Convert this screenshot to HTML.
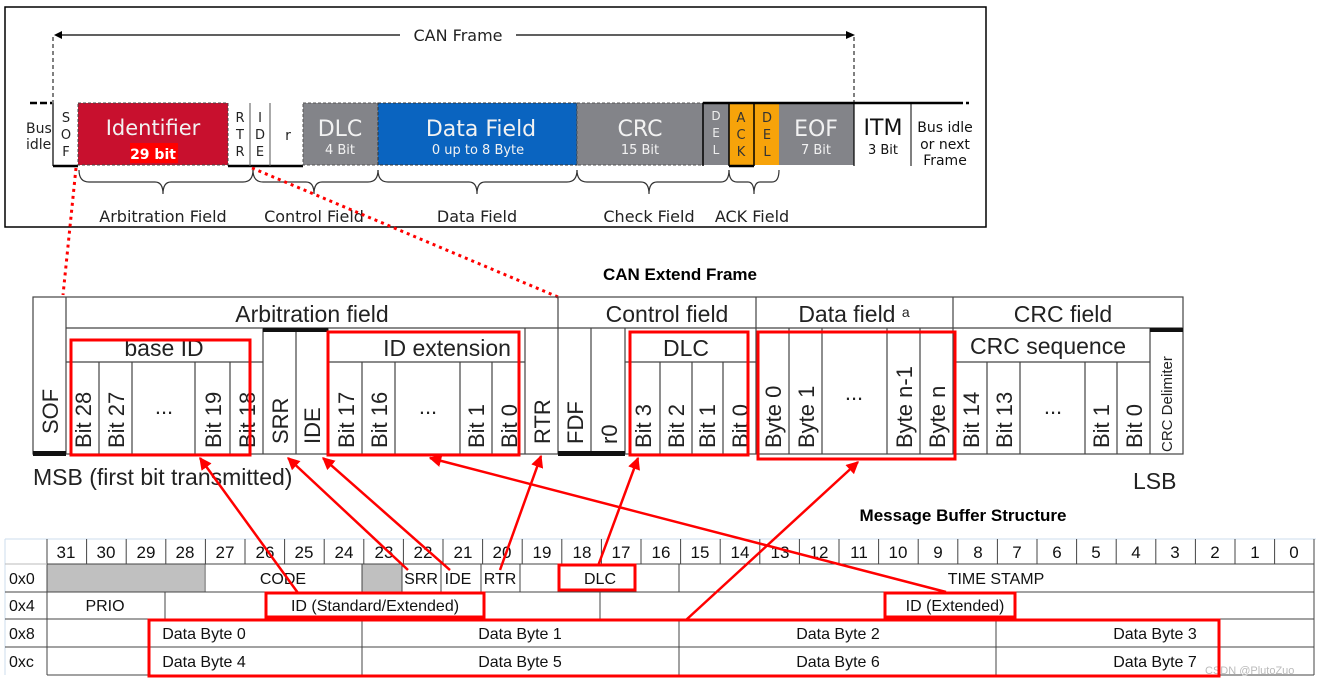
<!DOCTYPE html>
<html><head><meta charset="utf-8"><style>
body{margin:0;background:#fff;}
svg{display:block;}
</style></head><body>
<svg width="1323" height="685" viewBox="0 0 1323 685" xmlns="http://www.w3.org/2000/svg" font-family="'DejaVu Sans', sans-serif">
<defs>
<marker id="ah" viewBox="0 0 10 10" refX="9" refY="5" markerWidth="5" markerHeight="5" orient="auto-start-reverse"><path d="M0,0 L10,5 L0,10 z" fill="#f00"/></marker>
</defs>
<!-- ===== TOP FRAME ===== -->
<rect x="5" y="7" width="981" height="220" fill="#fff" stroke="#000" stroke-width="1.5"/>
<line x1="58" y1="35" x2="400" y2="35" stroke="#000" stroke-width="1.3"/>
<path d="M62,31 L54,35 L62,39 z" fill="#000"/>
<line x1="516" y1="35" x2="850" y2="35" stroke="#000" stroke-width="1.3"/>
<path d="M846,31 L855,35 L846,39 z" fill="#000"/>
<text x="458" y="41" font-size="16" text-anchor="middle" fill="#222">CAN Frame</text>
<line x1="53" y1="37" x2="53" y2="103" stroke="#000" stroke-width="1" stroke-dasharray="4,3"/>
<line x1="854" y1="37" x2="854" y2="103" stroke="#000" stroke-width="1" stroke-dasharray="4,3"/>
<line x1="30" y1="103" x2="52" y2="103" stroke="#000" stroke-width="2.5" stroke-dasharray="7,3"/>
<line x1="53" y1="103" x2="53" y2="166" stroke="#000" stroke-width="1.2"/>
<line x1="53" y1="166" x2="78" y2="166" stroke="#000" stroke-width="2.5"/>
<text font-size="14" fill="#222"><tspan x="26" y="133">Bus</tspan><tspan x="26" y="149">idle</tspan></text>
<text font-size="13" fill="#222" text-anchor="middle"><tspan x="66" y="122">S</tspan><tspan x="66" y="139">O</tspan><tspan x="66" y="156">F</tspan></text>
<rect x="78" y="103" width="150" height="62" fill="#c8102e" stroke="#444" stroke-dasharray="3,2"/>
<text x="153" y="135" font-size="21" fill="#f2f2f2" text-anchor="middle">Identifier</text>
<rect x="130" y="143" width="48" height="20" fill="#ff0000"/>
<text x="153" y="159" font-size="14" font-weight="bold" fill="#fff" text-anchor="middle">29 bit</text>
<line x1="228" y1="166" x2="303" y2="166" stroke="#000" stroke-width="2.5"/>
<line x1="250" y1="103" x2="250" y2="166" stroke="#555" stroke-width="1"/>
<line x1="270" y1="103" x2="270" y2="166" stroke="#555" stroke-width="1"/>
<text font-size="13" fill="#222" text-anchor="middle"><tspan x="240" y="122">R</tspan><tspan x="240" y="139">T</tspan><tspan x="240" y="156">R</tspan></text>
<text font-size="13" fill="#222" text-anchor="middle"><tspan x="260" y="122">I</tspan><tspan x="260" y="139">D</tspan><tspan x="260" y="156">E</tspan></text>
<text x="288" y="140" font-size="14" fill="#222" text-anchor="middle">r</text>
<rect x="303" y="103" width="75" height="62" fill="#838489" stroke="#555" stroke-dasharray="3,2"/>
<text x="340" y="136" font-size="22" fill="#f2f2f2" text-anchor="middle">DLC</text>
<text x="340" y="154" font-size="13" fill="#f2f2f2" text-anchor="middle">4 Bit</text>
<rect x="378" y="103" width="199" height="62" fill="#0a64c0" stroke="#333" stroke-dasharray="3,2"/>
<text x="481" y="136" font-size="22" fill="#f2f2f2" text-anchor="middle">Data Field</text>
<text x="478" y="154" font-size="13" fill="#f2f2f2" text-anchor="middle">0 up to 8 Byte</text>
<rect x="577" y="103" width="126" height="62" fill="#838489" stroke="#555" stroke-dasharray="3,2"/>
<text x="640" y="136" font-size="22" fill="#f2f2f2" text-anchor="middle">CRC</text>
<text x="640" y="154" font-size="13" fill="#f2f2f2" text-anchor="middle">15 Bit</text>
<rect x="703" y="103" width="26" height="62" fill="#838489"/>
<text font-size="12" fill="#eee" text-anchor="middle"><tspan x="716" y="120">D</tspan><tspan x="716" y="137">E</tspan><tspan x="716" y="154">L</tspan></text>
<rect x="729" y="103" width="25" height="62" fill="#f7a30a"/>
<text font-size="13" fill="#333" text-anchor="middle"><tspan x="741" y="122">A</tspan><tspan x="741" y="139">C</tspan><tspan x="741" y="156">K</tspan></text>
<rect x="754" y="103" width="25" height="62" fill="#f7a30a"/>
<text font-size="13" fill="#333" text-anchor="middle"><tspan x="767" y="122">D</tspan><tspan x="767" y="139">E</tspan><tspan x="767" y="156">L</tspan></text>
<rect x="779" y="103" width="75" height="62" fill="#838489"/>
<text x="816" y="136" font-size="22" fill="#f2f2f2" text-anchor="middle">EOF</text>
<text x="816" y="154" font-size="13" fill="#f2f2f2" text-anchor="middle">7 Bit</text>
<line x1="703" y1="103" x2="960" y2="103" stroke="#000" stroke-width="2.5"/>
<line x1="960" y1="103" x2="972" y2="103" stroke="#000" stroke-width="2.5" stroke-dasharray="3,3"/>
<line x1="703" y1="103" x2="703" y2="166" stroke="#000" stroke-width="1.5"/>
<line x1="729" y1="103" x2="729" y2="166" stroke="#000" stroke-width="1.5"/>
<line x1="729" y1="166" x2="754" y2="166" stroke="#000" stroke-width="2.5"/>
<line x1="754" y1="103" x2="754" y2="166" stroke="#000" stroke-width="1.5"/>
<line x1="854" y1="103" x2="854" y2="166" stroke="#000" stroke-width="1.2"/>
<line x1="911" y1="103" x2="911" y2="166" stroke="#000" stroke-width="1"/>
<text x="883" y="135" font-size="22" fill="#111" text-anchor="middle">ITM</text>
<text x="883" y="154" font-size="13" fill="#111" text-anchor="middle">3 Bit</text>
<text font-size="14" fill="#111" text-anchor="middle"><tspan x="945" y="132">Bus idle</tspan><tspan x="945" y="149">or next</tspan><tspan x="945" y="165">Frame</tspan></text>
<g fill="none" stroke="#333" stroke-width="1.2">
<path d="M79,170 Q79,182 89,182 L155,182 Q163,182 163,194 Q163,182 171,182 L243,182 Q253,182 253,170"/>
<path d="M253,170 Q253,182 263,182 L306,182 Q314,182 314,194 Q314,182 322,182 L368,182 Q378,182 378,170"/>
<path d="M378,170 Q378,182 388,182 L469,182 Q477,182 477,194 Q477,182 485,182 L567,182 Q577,182 577,170"/>
<path d="M577,170 Q577,182 587,182 L641,182 Q649,182 649,194 Q649,182 657,182 L721,182 Q729,182 729,170"/>
<path d="M729,170 Q729,182 737,182 L748,182 Q754,182 754,194 Q754,182 760,182 L772,182 Q779,182 779,170"/>
</g>
<g font-size="16" fill="#222" text-anchor="middle">
<text x="163" y="222">Arbitration Field</text>
<text x="314" y="222">Control Field</text>
<text x="477" y="222">Data Field</text>
<text x="649" y="222">Check Field</text>
<text x="752" y="222">ACK Field</text>
</g>
<line x1="76" y1="168" x2="63" y2="295" stroke="#f00" stroke-width="3" stroke-dasharray="3,4"/>
<line x1="252" y1="168" x2="558" y2="297" stroke="#f00" stroke-width="3" stroke-dasharray="3,4"/>

<!-- ===== CAN EXTEND FRAME ===== -->
<text x="680" y="280" font-size="17" font-weight="bold" text-anchor="middle" font-family="'Liberation Sans',sans-serif">CAN Extend Frame</text>
<g stroke="#444" stroke-width="1.2" fill="none">
<rect x="33" y="297" width="1150" height="157"/>
<line x1="66" y1="328" x2="1183" y2="328"/>
<line x1="66" y1="362" x2="263" y2="362"/>
<line x1="328" y1="362" x2="525" y2="362"/>
<line x1="625" y1="362" x2="756" y2="362"/>
<line x1="953" y1="362" x2="1150" y2="362"/>
<line x1="66" y1="297" x2="66" y2="454"/>
<line x1="558" y1="297" x2="558" y2="454"/>
<line x1="756" y1="297" x2="756" y2="454"/>
<line x1="953" y1="297" x2="953" y2="454"/>
<path d="M99,362V454M132,362V454M195,362V454M230,362V454M263,328V454M296,328V454M328,328V454M362,362V454M395,362V454M460,362V454M492,362V454M525,328V454M591,328V454M625,328V454M660,362V454M692,362V454M723,362V454M789,328V454M822,328V454M887,328V454M920,328V454M987,362V454M1020,362V454M1085,362V454M1117,362V454M1150,328V454"/>
</g>
<g fill="#111">
<rect x="33" y="451" width="33" height="5"/>
<rect x="263" y="328" width="65" height="4"/>
<rect x="558" y="451" width="67" height="5"/>
<rect x="1150" y="328" width="33" height="4"/>
</g>
<g font-family="'Liberation Sans',sans-serif" fill="#222" text-anchor="middle">
<text x="312" y="322" font-size="23">Arbitration field</text>
<text x="667" y="322" font-size="23">Control field</text>
<text x="854" y="322" font-size="23">Data field <tspan font-size="14" dy="-5">a</tspan></text>
<text x="1063" y="322" font-size="23">CRC field</text>
<text x="164" y="356" font-size="23">base ID</text>
<text x="447" y="356" font-size="23">ID extension</text>
<text x="686" y="356" font-size="23">DLC</text>
<text x="1048" y="354" font-size="23">CRC sequence</text>
<text x="164" y="414" font-size="22">...</text>
<text x="428" y="414" font-size="22">...</text>
<text x="854" y="400" font-size="22">...</text>
<text x="1053" y="414" font-size="22">...</text>
</g>
<g font-family="'Liberation Sans',sans-serif" fill="#222" font-size="22">
<text transform="translate(58,434) rotate(-90)">SOF</text>
<text transform="translate(91,448) rotate(-90)">Bit 28</text>
<text transform="translate(124,448) rotate(-90)">Bit 27</text>
<text transform="translate(221,448) rotate(-90)">Bit 19</text>
<text transform="translate(255,448) rotate(-90)">Bit 18</text>
<text transform="translate(288,444) rotate(-90)">SRR</text>
<text transform="translate(320,444) rotate(-90)">IDE</text>
<text transform="translate(354,448) rotate(-90)">Bit 17</text>
<text transform="translate(387,448) rotate(-90)">Bit 16</text>
<text transform="translate(484,448) rotate(-90)">Bit 1</text>
<text transform="translate(517,448) rotate(-90)">Bit 0</text>
<text transform="translate(550,444) rotate(-90)">RTR</text>
<text transform="translate(583,444) rotate(-90)">FDF</text>
<text transform="translate(617,444) rotate(-90)">r0</text>
<text transform="translate(651,448) rotate(-90)">Bit 3</text>
<text transform="translate(684,448) rotate(-90)">Bit 2</text>
<text transform="translate(715,448) rotate(-90)">Bit 1</text>
<text transform="translate(748,448) rotate(-90)">Bit 0</text>
<text transform="translate(781,448) rotate(-90)">Byte 0</text>
<text transform="translate(814,448) rotate(-90)">Byte 1</text>
<text transform="translate(912,448) rotate(-90)">Byte n-1</text>
<text transform="translate(945,448) rotate(-90)">Byte n</text>
<text transform="translate(979,448) rotate(-90)">Bit 14</text>
<text transform="translate(1012,448) rotate(-90)">Bit 13</text>
<text transform="translate(1109,448) rotate(-90)">Bit 1</text>
<text transform="translate(1142,448) rotate(-90)">Bit 0</text>
<text transform="translate(1172,452) rotate(-90)" font-size="15">CRC Delimiter</text>
</g>
<text x="33" y="485" font-size="23" fill="#222" font-family="'Liberation Sans',sans-serif">MSB (first bit transmitted)</text>
<text x="1133" y="489" font-size="23" fill="#222" font-family="'Liberation Sans',sans-serif">LSB</text>
<g fill="none" stroke="#f00" stroke-width="3">
<rect x="71" y="340" width="179" height="115"/>
<rect x="328" y="332" width="191" height="123"/>
<rect x="630" y="332" width="118" height="123"/>
<rect x="758" y="332" width="197" height="127"/>
</g>

<!-- ===== MESSAGE BUFFER ===== -->
<text x="963" y="521" font-size="17" font-weight="bold" text-anchor="middle" font-family="'Liberation Sans',sans-serif">Message Buffer Structure</text>
<g font-family="'Liberation Sans',sans-serif" font-size="16" fill="#111">
<rect x="47" y="564" width="157" height="28" fill="#c0c0c0"/>
<rect x="362" y="564" width="40" height="28" fill="#c0c0c0"/>
<g stroke="#cde" stroke-width="1" fill="none">
<line x1="5" y1="539" x2="5" y2="675"/>
<line x1="5" y1="539" x2="1316" y2="539"/>
</g>
<g stroke="#444" stroke-width="1" fill="none">
<line x1="47" y1="539" x2="47" y2="675"/>
<line x1="47" y1="564" x2="1314" y2="564"/>
<line x1="5" y1="564" x2="47" y2="564" stroke="#bbb"/>
<line x1="5" y1="592" x2="1314" y2="592"/>
<line x1="5" y1="619" x2="1314" y2="619"/>
<line x1="5" y1="647" x2="1314" y2="647"/>
<line x1="47" y1="675" x2="1314" y2="675"/>
<line x1="1314" y1="539" x2="1314" y2="675"/>
<path d="M86.6,539V564M126.2,539V564M165.8,539V564M205.4,539V564M245,539V564M284.6,539V564M324.2,539V564M363.8,539V564M403.4,539V564M443,539V564M482.6,539V564M522.2,539V564M561.8,539V564M601.4,539V564M641,539V564M680.6,539V564M720.2,539V564M759.8,539V564M799.4,539V564M839,539V564M878.6,539V564M918.2,539V564M957.8,539V564M997.4,539V564M1037,539V564M1076.6,539V564M1116.2,539V564M1155.8,539V564M1195.4,539V564M1235,539V564M1274.6,539V564"/>
<path d="M205,564V592M362,564V592M402,564V592M441,564V592M481,564V592M520,564V592M679,564V592M165,592V619M600,592V619M362,619V675M679,619V675M996,619V675"/>
</g>
<g text-anchor="middle" font-size="17">
<text x="66" y="558">31</text><text x="106" y="558">30</text><text x="146" y="558">29</text><text x="185" y="558">28</text><text x="225" y="558">27</text><text x="265" y="558">26</text><text x="304" y="558">25</text><text x="344" y="558">24</text><text x="384" y="558">23</text><text x="423" y="558">22</text><text x="463" y="558">21</text><text x="502" y="558">20</text><text x="542" y="558">19</text><text x="582" y="558">18</text><text x="621" y="558">17</text><text x="661" y="558">16</text><text x="700" y="558">15</text><text x="740" y="558">14</text><text x="780" y="558">13</text><text x="819" y="558">12</text><text x="859" y="558">11</text><text x="898" y="558">10</text><text x="938" y="558">9</text><text x="978" y="558">8</text><text x="1017" y="558">7</text><text x="1057" y="558">6</text><text x="1096" y="558">5</text><text x="1136" y="558">4</text><text x="1175" y="558">3</text><text x="1215" y="558">2</text><text x="1255" y="558">1</text><text x="1294" y="558">0</text>
</g>
<text x="9" y="584">0x0</text><text x="9" y="611">0x4</text><text x="9" y="639">0x8</text><text x="9" y="667">0xc</text>
<g text-anchor="middle">
<text x="283" y="584">CODE</text><text x="421" y="584">SRR</text><text x="458" y="584">IDE</text><text x="500" y="584">RTR</text><text x="600" y="584">DLC</text><text x="996" y="584">TIME STAMP</text>
<text x="105" y="611">PRIO</text><text x="375" y="611">ID (Standard/Extended)</text><text x="955" y="611">ID (Extended)</text>
<text x="204" y="639">Data Byte 0</text><text x="520" y="639">Data Byte 1</text><text x="838" y="639">Data Byte 2</text><text x="1155" y="639">Data Byte 3</text>
<text x="204" y="667">Data Byte 4</text><text x="520" y="667">Data Byte 5</text><text x="838" y="667">Data Byte 6</text><text x="1155" y="667">Data Byte 7</text>
</g>
</g>
<text x="1205" y="674" font-size="11" fill="#bbb" font-family="'Liberation Sans',sans-serif">CSDN @PlutoZuo</text>
<g fill="none" stroke="#f00" stroke-width="3">
<rect x="559" y="565" width="76" height="25"/>
<rect x="266" y="593" width="218" height="24"/>
<rect x="885" y="593" width="130" height="24"/>
<rect x="149" y="620" width="1070" height="56"/>
</g>
<g stroke="#f00" stroke-width="2.5" marker-end="url(#ah)">
<line x1="298" y1="593" x2="200" y2="458"/>
<line x1="408" y1="570" x2="288" y2="458"/>
<line x1="450" y1="570" x2="323" y2="458"/>
<line x1="500" y1="570" x2="541" y2="456"/>
<line x1="598" y1="566" x2="638" y2="458"/>
<line x1="686" y1="620" x2="858" y2="462"/>
<line x1="946" y1="592" x2="430" y2="458"/>
</g>
</svg>
</body></html>
